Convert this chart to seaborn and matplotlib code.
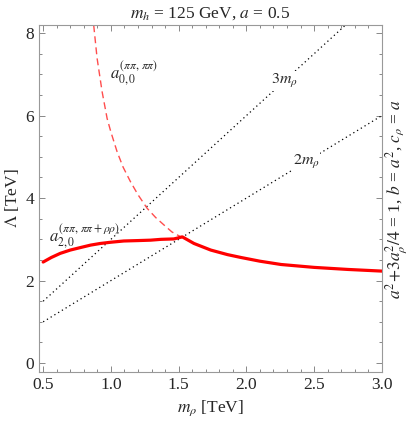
import numpy as np
import pandas as pd
import matplotlib
matplotlib.use("Agg")
import matplotlib.pyplot as plt
from matplotlib.ticker import MultipleLocator
import seaborn as sns

# values
# solid red: a_{2,0} bound
solid_m = [0.5, 0.56, 0.626, 0.70, 0.774, 0.85, 0.922, 1.0, 1.095, 1.2,
           1.293, 1.37, 1.465, 1.527, 1.613, 1.737, 1.86, 1.96, 2.1,
           2.256, 2.5, 2.75, 3.0]
solid_L = [2.45, 2.56, 2.66, 2.74, 2.80, 2.86, 2.90, 2.93, 2.96, 2.97,
           2.98, 3.0, 3.01, 3.06, 2.90, 2.74, 2.63, 2.56, 2.47,
           2.39, 2.32, 2.27, 2.23]

# dashed red: a_{0,0} bound
dash_m = [0.873, 0.898, 0.935, 0.972, 1.0, 1.046, 1.09, 1.144, 1.2, 1.268,
          1.33, 1.391, 1.45, 1.527]
dash_L = [8.19, 7.39, 6.58, 5.93, 5.60, 5.12, 4.75, 4.40, 4.08, 3.75,
          3.53, 3.35, 3.18, 3.04]

# dotted reference lines Lambda = 3 m_rho and 2 m_rho
line3_m = [0.5, 8.2 / 3]
line3_L = [1.5, 8.2]
line2_m = [0.5, 3.0]
line2_L = [1.0, 6.0]

x_ticks = [0.5, 1.0, 1.5, 2.0, 2.5, 3.0]
y_ticks = [0, 2, 4, 6, 8]

sns.set_style("ticks")
plt.rcParams["font.family"] = ["Liberation Serif", "DejaVu Serif"]
plt.rcParams["mathtext.fontset"] = "stix"

fig = plt.figure(figsize=(4.16, 4.21), dpi=100)
ax = fig.add_axes([0.094, 0.116, 0.824, 0.825])

sns.lineplot(x=line3_m, y=line3_L, ax=ax, color="black", lw=0.9,
             linestyle=(0, (1, 2.5)), sort=False)
sns.lineplot(x=line2_m, y=line2_L, ax=ax, color="black", lw=0.9,
             linestyle=(0, (1, 2.5)), sort=False)
sns.lineplot(x=dash_m, y=dash_L, ax=ax, color="#ff4d4d", lw=1.0,
             linestyle=(0, (5, 3)), sort=False)
sns.lineplot(x=solid_m, y=solid_L, ax=ax, color="#ff0000", lw=2.3,
             sort=False, solid_joinstyle="round")

ax.set_xlim(0.47, 3.0)
ax.set_ylim(-0.22, 8.2)
ax.set_xticks(x_ticks)
ax.set_xticklabels([f"{v:.1f}" for v in x_ticks])
ax.set_yticks(y_ticks)
ax.xaxis.set_minor_locator(MultipleLocator(0.1))
ax.yaxis.set_minor_locator(MultipleLocator(0.5))
ax.tick_params(which="both", direction="in", top=True, right=True,
               color="#888888", labelsize=12.5, width=0.7)
ax.tick_params(which="major", length=4.5)
ax.tick_params(which="minor", length=2.5)
for s in ax.spines.values():
    s.set_color("#999999")
    s.set_linewidth(0.8)

ax.set_xlabel(r"$m_\rho$ [TeV]", fontsize=12.5, labelpad=4)
ax.set_ylabel(r"$\Lambda$ [TeV]", fontsize=12.5)
ax.yaxis.set_label_coords(-0.052, 0.5)
ax.set_title(r"$m_h$ = 125 GeV, $a$ = 0.5", fontsize=12.5, pad=5)

ax.text(0.99, 7.0, r"$a_{0,0}^{(\pi\pi,\,\pi\pi)}$", fontsize=12,
        va="center", ha="left")
ax.text(0.54, 3.06, r"$a_{2,0}^{(\pi\pi,\,\pi\pi+\rho\rho)}$", fontsize=12,
        va="center", ha="left")
box = dict(facecolor="white", edgecolor="none", pad=0.5)
ax.text(2.28, 6.84, r"$3m_\rho$", fontsize=11.5, va="center", ha="center",
        bbox=box)
ax.text(2.44, 4.88, r"$2m_\rho$", fontsize=11.5, va="center", ha="center",
        bbox=box)

fig.text(0.952, 0.116 + 0.825 / 2,
         r"$a^2\!+\!3a_\rho^2/4$ = 1, $b$ = $a^2$, $c_\rho$ = $a$",
         rotation=90, va="center", ha="center", fontsize=12.5)

fig.savefig("out.png", dpi=100)
